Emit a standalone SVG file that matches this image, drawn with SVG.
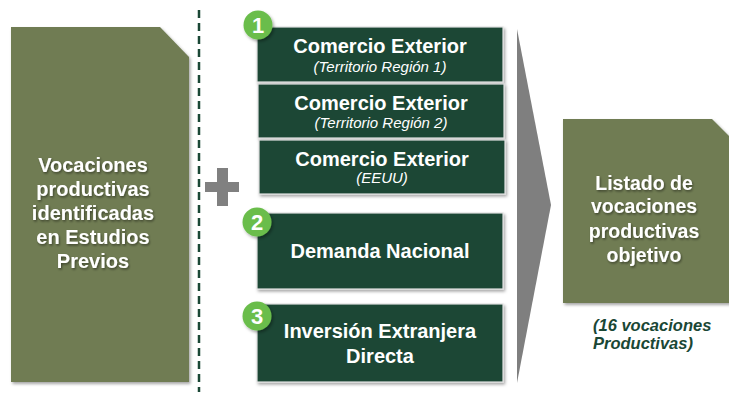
<svg xmlns="http://www.w3.org/2000/svg" width="729" height="395" viewBox="0 0 729 395">
<defs>
<filter id="sh" x="-10%" y="-10%" width="130%" height="130%">
<feDropShadow dx="1.5" dy="2" stdDeviation="1.5" flood-color="#000" flood-opacity="0.35"/>
</filter>
<filter id="tsh" x="-10%" y="-20%" width="130%" height="150%">
<feDropShadow dx="1" dy="1.5" stdDeviation="1" flood-color="#000" flood-opacity="0.45"/>
</filter>
</defs>
<style>
.olive{fill:#6f7c53}
.dk{fill:#1a4735;stroke:#e0e0e0;stroke-width:1.2}
.t{font-family:"Liberation Sans",Arial,sans-serif;font-weight:bold;fill:#fff;text-anchor:middle}
.big{font-size:20px}
.rbig{font-size:19.5px}
.box{font-size:20px}
.sub{font-family:"Liberation Sans",Arial,sans-serif;font-style:italic;font-size:15px;fill:#fff;text-anchor:middle}
.badge{fill:#6abd4b}
.num{font-family:"Liberation Sans",Arial,sans-serif;font-weight:bold;font-size:22px;fill:#fff;text-anchor:middle}
</style>
<g id="connectors">
<line x1="199" y1="10" x2="199" y2="392" stroke="#1a4735" stroke-width="2.5" stroke-dasharray="8,5"/>
<path d="M517,29 L551,205 L517,383 Z" fill="#7f7f7f"/>
</g>
<g id="plus">
<rect x="205" y="182" width="34" height="10" fill="#808080"/>
<rect x="217" y="168" width="11" height="38" fill="#808080"/>
</g>
<g id="left-box">
<path class="olive" filter="url(#sh)" d="M11,27 L160,27 L189,57 L189,382 L11,382 Z"/>
<g class="t big" filter="url(#tsh)">
<text x="93" y="172">Vocaciones</text>
<text x="93" y="196">productivas</text>
<text x="93" y="220">identificadas</text>
<text x="93" y="244">en Estudios</text>
<text x="93" y="268">Previos</text>
</g>
</g>
<g id="box1">
<rect class="dk" filter="url(#sh)" x="257" y="27" width="246" height="55"/>
<text class="t box" x="380" y="53">Comercio Exterior</text>
<text class="sub" x="380" y="72">(Territorio Región 1)</text>
</g>
<g id="box2">
<rect class="dk" filter="url(#sh)" x="258" y="84" width="246" height="54"/>
<text class="t box" x="381" y="110">Comercio Exterior</text>
<text class="sub" x="381" y="128">(Territorio Región 2)</text>
</g>
<g id="box3">
<rect class="dk" filter="url(#sh)" x="259" y="140" width="246" height="54"/>
<text class="t box" x="382" y="166">Comercio Exterior</text>
<text class="sub" x="382" y="183">(EEUU)</text>
</g>
<g id="box4">
<rect class="dk" filter="url(#sh)" x="257" y="213" width="246" height="76"/>
<text class="t box" x="380" y="258">Demanda Nacional</text>
</g>
<g id="box5">
<rect class="dk" filter="url(#sh)" x="257" y="304" width="246" height="78"/>
<text class="t box" x="380" y="338">Inversión Extranjera</text>
<text class="t box" x="380" y="363">Directa</text>
</g>
<g id="badge1">
<circle class="badge" filter="url(#sh)" cx="258" cy="25" r="14.5"/>
<text class="num" x="258" y="33">1</text>
</g>
<g id="badge2">
<circle class="badge" filter="url(#sh)" cx="257" cy="222" r="14.5"/>
<text class="num" x="257" y="230">2</text>
</g>
<g id="badge3">
<circle class="badge" filter="url(#sh)" cx="257" cy="316" r="14.5"/>
<text class="num" x="257" y="324">3</text>
</g>
<g id="right-box">
<path class="olive" filter="url(#sh)" d="M563,119 L712,119 L745,152 L745,303 L563,303 Z"/>
<g class="t rbig" filter="url(#tsh)">
<text x="644" y="190">Listado de</text>
<text x="644" y="213">vocaciones</text>
<text x="644" y="238">productivas</text>
<text x="644" y="262">objetivo</text>
</g>
</g>
<g id="note" font-family="'Liberation Sans',Arial,sans-serif" font-weight="bold" font-style="italic" font-size="16.5px" fill="#1a4735">
<text x="593" y="331">(16 vocaciones</text>
<text x="593" y="349">Productivas)</text>
</g>
</svg>
